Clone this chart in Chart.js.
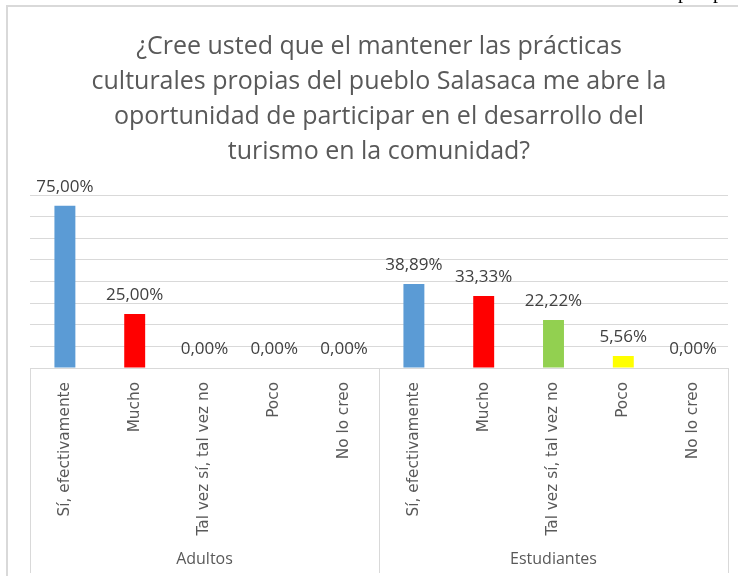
<!DOCTYPE html>
<html>
<head>
<meta charset="utf-8">
<script src="https://cdn.jsdelivr.net/npm/chart.js@4.4.1/dist/chart.umd.min.js"></script>
<style>
  html, body { margin: 0; padding: 0; background: #ffffff; }
  #wrap { width: 738px; height: 576px; position: relative; }
</style>
</head>
<body>
<div id="wrap"><canvas id="c" width="738" height="576"></canvas></div>
<script>
// ---- Data ----
const titleLines = [
  "¿Cree usted que el mantener las prácticas",
  "culturales propias del pueblo Salasaca me abre la",
  "oportunidad de participar en el desarrollo del",
  "turismo en la comunidad?"
];
const responses = ["Sí, efectivamente", "Mucho", "Tal vez sí, tal vez no", "Poco", "No lo creo"];
const groups = ["Adultos", "Estudiantes"];
const adultos = [75.00, 25.00, 0.00, 0.00, 0.00];
const estudiantes = [38.89, 33.33, 22.22, 5.56, 0.00];
const responseColors = ["#5B9BD5", "#FF0000", "#92D050", "#FFFF00", "#FFC000"];
const yTicks = [0, 10, 20, 30, 40, 50, 60, 70, 80];
const pageFragment = ["p", "p"];

// Build flat table for the library
const labels = [];
const values = [];
const colors = [];
const groupSizes = [];
[adultos, estudiantes].forEach((series) => {
  groupSizes.push(series.length);
  series.forEach((v, i) => {
    labels.push(responses[i]);
    values.push(v);
    colors.push(responseColors[i]);
  });
});

const fmt = (v) => v.toFixed(2).replace('.', ',') + '%';

const decorPlugin = {
  id: 'decor',
  beforeDraw(chart) {
    const ctx = chart.ctx;
    ctx.save();
    ctx.fillStyle = '#ffffff';
    ctx.fillRect(0, 0, chart.width, chart.height);
    // outer frame (partially visible)
    ctx.strokeStyle = '#d9d9d9';
    ctx.lineWidth = 2;
    ctx.beginPath();
    ctx.moveTo(chart.width, 6);
    ctx.lineTo(7, 6);
    ctx.lineTo(7, chart.height);
    ctx.stroke();
    // cut-off document text at top right
    ctx.fillStyle = '#000000';
    ctx.font = '20px "Liberation Serif"';
    ctx.textAlign = 'center';
    ctx.textBaseline = 'alphabetic';
    ctx.fillText(pageFragment[0], 683, -2);
    ctx.fillText(pageFragment[1], 718, -2);
    ctx.restore();
  },
  afterDatasetsDraw(chart) {
    const ctx = chart.ctx;
    const meta = chart.getDatasetMeta(0);
    ctx.save();
    ctx.fillStyle = '#404040';
    ctx.font = '17px "Open Sans"';
    ctx.textAlign = 'center';
    ctx.textBaseline = 'alphabetic';
    meta.data.forEach((bar, i) => {
      ctx.fillText(fmt(values[i]), bar.x, bar.y - 14);
    });
    ctx.restore();
  },
  afterDraw(chart) {
    const ctx = chart.ctx;
    const xs = chart.scales.x;
    const area = chart.chartArea;
    const step = xs.getPixelForValue(1) - xs.getPixelForValue(0);
    ctx.save();
    ctx.strokeStyle = '#d9d9d9';
    ctx.lineWidth = 1;
    let start = 0;
    const bounds = [xs.getPixelForValue(0) - step / 2];
    groupSizes.forEach((n) => {
      start += n;
      bounds.push(xs.getPixelForValue(start - 1) + step / 2);
    });
    ctx.beginPath();
    bounds.forEach((bx) => {
      const px = Math.round(bx) + 0.5;
      ctx.moveTo(px, area.bottom);
      ctx.lineTo(px, chart.height - 3);
    });
    ctx.stroke();
    ctx.fillStyle = '#595959';
    ctx.font = '16px "Open Sans"';
    ctx.textAlign = 'center';
    ctx.textBaseline = 'middle';
    groups.forEach((g, gi) => {
      ctx.fillText(g, (bounds[gi] + bounds[gi + 1]) / 2, chart.height - 17);
    });
    ctx.restore();
  }
};

new Chart(document.getElementById('c'), {
  type: 'bar',
  data: {
    labels: labels,
    datasets: [{
      data: values,
      backgroundColor: colors,
      borderWidth: 0,
      barPercentage: 0.3,
      categoryPercentage: 1.0
    }]
  },
  options: {
    responsive: false,
    animation: false,
    devicePixelRatio: 1,
    layout: { padding: { left: 30, right: 10, top: 10, bottom: 0 } },
    plugins: {
      legend: { display: false },
      tooltip: { enabled: false },
      title: {
        display: true,
        text: titleLines,
        color: '#595959',
        font: { family: 'Open Sans', size: 25, weight: 'normal', lineHeight: 1.4 },
        padding: { top: 19, bottom: 26 }
      }
    },
    scales: {
      x: {
        grid: { display: false, drawTicks: false },
        border: { display: true, color: '#d9d9d9' },
        ticks: {
          color: '#595959',
          font: { family: 'DejaVu Sans', size: 15.3 },
          minRotation: 90,
          maxRotation: 90,
          autoSkip: false,
          padding: 14
        },
        afterFit(scale) { scale.height = 208; }
      },
      y: {
        min: yTicks[0],
        max: yTicks[yTicks.length - 1],
        afterBuildTicks(scale) { scale.ticks = yTicks.map(v => ({ value: v })); },
        grid: { color: '#d9d9d9', drawTicks: false },
        border: { display: false },
        ticks: { display: false },
        afterFit(scale) { scale.width = 0; }
      }
    }
  },
  plugins: [decorPlugin]
});
</script>
</body>
</html>
